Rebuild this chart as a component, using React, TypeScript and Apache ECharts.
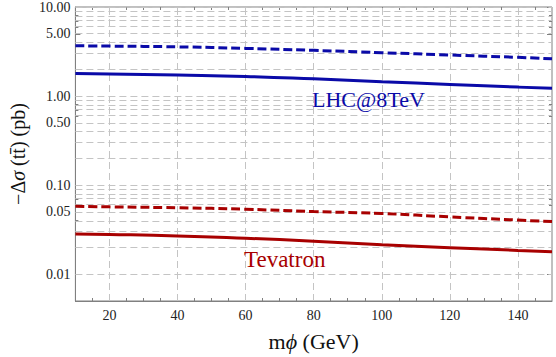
import React, { useEffect, useRef } from "react";
import * as echarts from "echarts";

const massGeV = [10, 20, 40, 60, 80, 100, 120, 140, 150];
const lhcSolid = [1.79, 1.77, 1.72, 1.66, 1.56, 1.45, 1.35, 1.26, 1.22];
const lhcDashed = [3.67, 3.64, 3.57, 3.43, 3.26, 3.07, 2.89, 2.72, 2.62];
const tevSolid = [0.0282, 0.0279, 0.0269, 0.0253, 0.0235, 0.0214, 0.0198, 0.0185, 0.0179];
const tevDashed = [0.058, 0.057, 0.0557, 0.0536, 0.0505, 0.048, 0.044, 0.0405, 0.039];

const xMajorTicks = [20, 40, 60, 80, 100, 120, 140];
const xMinorTicks = [15, 25, 30, 35, 45, 50, 55, 65, 70, 75, 85, 90, 95, 105, 110, 115, 125, 130, 135, 145];
const yMajorTicks = [0.01, 0.05, 0.1, 0.5, 1, 5, 10];
const yGridValues = [
  0.01, 0.02, 0.03, 0.04, 0.05, 0.06, 0.07, 0.08, 0.09,
  0.1, 0.2, 0.3, 0.4, 0.5, 0.6, 0.7, 0.8, 0.9,
  1, 2, 3, 4, 5, 6, 7, 8, 9, 10,
];
const yMinorTicks = yGridValues.filter((v) => !yMajorTicks.includes(v));

const Y_MIN = 0.005;
const Y_MAX = 10;
const BLUE = "#0a0aa8";
const RED = "#a80000";
const FONT = "Liberation Serif";
const AXIS_COLOR = "#808080";
const GRID_COLOR = "#c4c4c4";

const lg = (v: number) => Math.log10(v);

export default function App() {
  const ref = useRef<HTMLDivElement>(null);
  useEffect(() => {
    if (!ref.current) return;
    const chart = echarts.init(ref.current, undefined, { renderer: "svg" });

    const xAxisBase = {
      type: "value",
      min: 10,
      max: 150,
      splitLine: { show: false },
      axisLine: { show: false, onZero: false },
      axisLabel: { show: false },
    };
    const yAxisBase = {
      type: "value",
      min: lg(Y_MIN),
      max: lg(Y_MAX),
      splitLine: { show: false },
      axisLine: { show: false, onZero: false },
      axisLabel: { show: false },
    };

    const mkLine = (vals: number[], color: string, dashed: boolean) => ({
      type: "line",
      xAxisIndex: 0,
      yAxisIndex: 0,
      smooth: true,
      symbol: "none",
      z: 5,
      lineStyle: { color, width: 3, type: dashed ? [9, 4] : "solid" },
      data: massGeV.map((m, i) => [m, lg(vals[i])]),
    });

    const option: any = {
      animation: false,
      grid: {
        left: 73,
        right: 4,
        top: 7,
        bottom: 54,
        show: true,
        borderColor: AXIS_COLOR,
        borderWidth: 1,
        backgroundColor: "transparent",
      },
      xAxis: [
        {
          ...xAxisBase,
          position: "bottom",
          axisLine: { show: true, onZero: false, lineStyle: { color: AXIS_COLOR, width: 1 } },
          axisTick: { show: true, inside: true, length: 5, customValues: xMajorTicks, lineStyle: { color: AXIS_COLOR } },
          axisLabel: {
            show: true,
            customValues: xMajorTicks,
            fontFamily: FONT,
            fontSize: 14,
            color: "#222",
            margin: 7,
          },
          name: "{n|m}{i|ϕ}{n| (GeV)}",
          nameLocation: "middle",
          nameGap: 29,
          nameTextStyle: {
            rich: {
              n: { fontFamily: FONT, fontSize: 22, color: "#111" },
              i: { fontFamily: FONT, fontSize: 22, fontStyle: "italic", color: "#111" },
            },
          },
        },
        {
          ...xAxisBase,
          position: "bottom",
          axisTick: { show: true, inside: true, length: 3, customValues: xMinorTicks, lineStyle: { color: AXIS_COLOR } },
        },
        {
          ...xAxisBase,
          position: "top",
          axisTick: { show: true, inside: true, length: 5, customValues: xMajorTicks, lineStyle: { color: AXIS_COLOR } },
        },
        {
          ...xAxisBase,
          position: "top",
          axisTick: { show: true, inside: true, length: 3, customValues: xMinorTicks, lineStyle: { color: AXIS_COLOR } },
        },
      ],
      yAxis: [
        {
          ...yAxisBase,
          position: "left",
          axisLine: { show: true, onZero: false, lineStyle: { color: AXIS_COLOR, width: 1 } },
          axisTick: { show: true, inside: true, length: 5, customValues: yMajorTicks.map(lg), lineStyle: { color: AXIS_COLOR } },
          axisLabel: {
            show: true,
            customValues: yMajorTicks.map(lg),
            formatter: (v: number) => Math.pow(10, v).toFixed(2),
            fontFamily: FONT,
            fontSize: 14,
            color: "#222",
            margin: 5,
          },
          name: "−Δ{i|σ} (tt\u0304) (pb)",
          nameLocation: "middle",
          nameGap: 46,
          nameRotate: 90,
          nameTextStyle: {
            fontFamily: FONT,
            fontSize: 20,
            color: "#111",
            rich: {
              i: { fontFamily: FONT, fontSize: 20, fontStyle: "italic", color: "#111" },
            },
          },
        },
        {
          ...yAxisBase,
          position: "left",
          axisTick: { show: true, inside: true, length: 3, customValues: yMinorTicks.map(lg), lineStyle: { color: AXIS_COLOR } },
        },
        {
          ...yAxisBase,
          position: "right",
          axisTick: { show: true, inside: true, length: 5, customValues: yMajorTicks.map(lg), lineStyle: { color: AXIS_COLOR } },
        },
        {
          ...yAxisBase,
          position: "right",
          axisTick: { show: true, inside: true, length: 3, customValues: yMinorTicks.map(lg), lineStyle: { color: AXIS_COLOR } },
        },
      ],
      series: [
        {
          type: "line",
          xAxisIndex: 0,
          yAxisIndex: 0,
          symbol: "none",
          silent: true,
          z: 1,
          lineStyle: { opacity: 0 },
          data: [[massGeV[0], lg(lhcSolid[0])]],
          markLine: {
            silent: true,
            symbol: ["none", "none"],
            label: { show: false },
            animation: false,
            lineStyle: { color: GRID_COLOR, width: 1, type: [7, 4] },
            data: [
              ...xMajorTicks.map((x) => ({ xAxis: x })),
              ...yGridValues.map((v) => ({ yAxis: lg(v) })),
            ],
          },
        },
        mkLine(lhcDashed, BLUE, true),
        mkLine(lhcSolid, BLUE, false),
        mkLine(tevDashed, RED, true),
        mkLine(tevSolid, RED, false),
      ],
      graphic: [
        {
          type: "text",
          left: 312,
          top: 88,
          z: 10,
          style: { text: "LHC@8TeV", fontFamily: FONT, fontSize: 22, fill: BLUE },
        },
        {
          type: "text",
          left: 244,
          top: 248,
          z: 10,
          style: { text: "Tevatron", fontFamily: FONT, fontSize: 23, fill: RED },
        },
      ],
    };

    chart.setOption(option);
    return () => chart.dispose();
  }, []);

  return (
    <div
      ref={ref}
      style={{ position: "absolute", left: 0, top: 0, width: 556, height: 357 }}
    />
  );
}
